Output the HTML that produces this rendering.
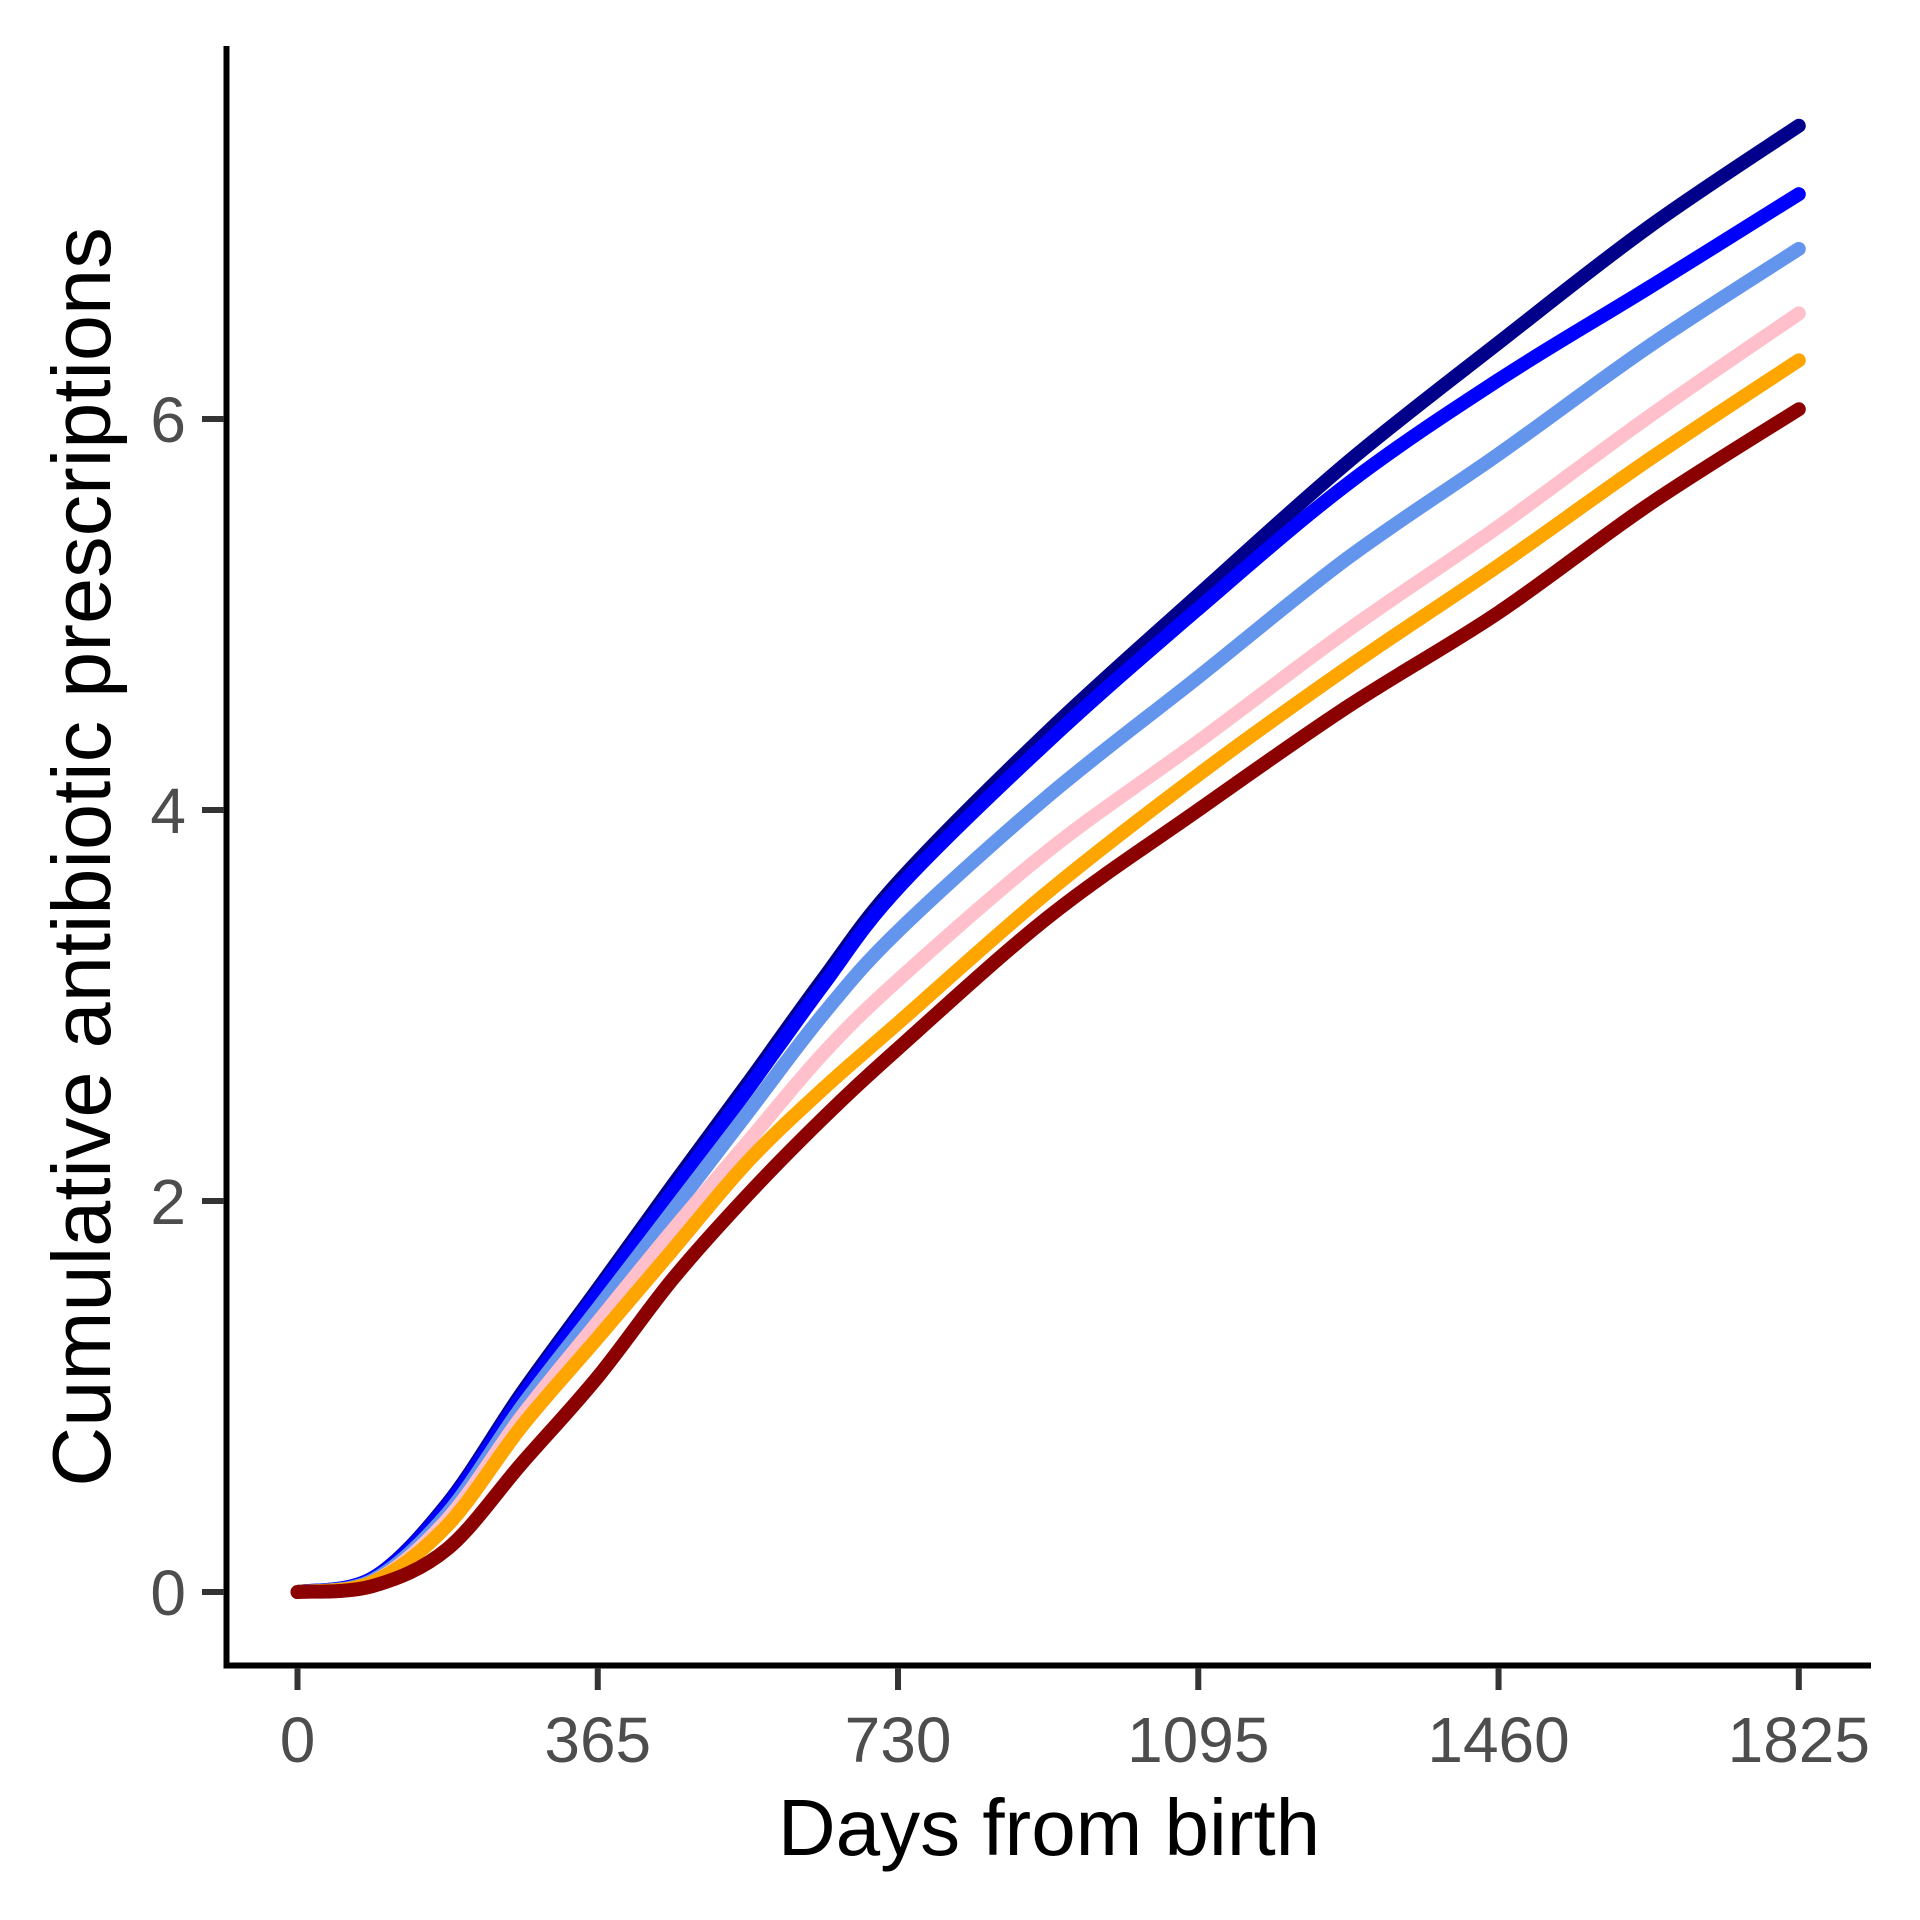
<!DOCTYPE html>
<html><head><meta charset="utf-8"><style>
html,body{margin:0;padding:0;background:#fff;}
svg{display:block;font-family:"Liberation Sans",sans-serif;}
</style></head><body>
<svg id="chart" width="1920" height="1920" viewBox="0 0 1920 1920">
<g id="plot"></g>
<line x1="226.5" y1="46" x2="226.5" y2="1668" stroke="#000" stroke-width="6"/>
<line x1="223.5" y1="1665.5" x2="1871" y2="1665.5" stroke="#000" stroke-width="6"/>
<g id="xticks"></g>
<g id="yticks"></g>
<text x="1049" y="1855" font-size="80" text-anchor="middle" fill="#000">Days from birth</text>
<text x="0" y="0" font-size="83" text-anchor="middle" fill="#000" transform="translate(110,857) rotate(-90)">Cumulative antibiotic prescriptions</text>
</svg>
<script>
const days = [0,91,182,273,365,456,547,638,730,912,1095,1277,1460,1642,1825];
const seriesNames = ['navy','blue','cornflower','pink','orange','darkred'];
const navyVals = [0,0.07,0.45,1.02,1.55,2.08,2.60,3.13,3.63,4.40,5.10,5.78,6.39,6.98,7.50];
const blueVals = [0,0.07,0.44,1.00,1.53,2.05,2.57,3.10,3.60,4.35,5.03,5.67,6.20,6.67,7.15];
const cornflowerVals = [0,0.06,0.40,0.95,1.45,1.95,2.45,2.95,3.38,4.07,4.68,5.29,5.82,6.37,6.87];
const pinkVals = [0,0.05,0.37,0.90,1.38,1.85,2.30,2.75,3.13,3.79,4.35,4.92,5.45,6.01,6.54];
const orangeVals = [0,0.05,0.34,0.85,1.30,1.75,2.20,2.57,2.91,3.58,4.18,4.73,5.25,5.79,6.30];
const darkredVals = [0,0.03,0.22,0.66,1.10,1.60,2.03,2.42,2.78,3.45,4.00,4.53,5.01,5.56,6.05];
const xTicks = [0,365,730,1095,1460,1825];
const yTicks = [0,2,4,6];

const NS='http://www.w3.org/2000/svg';
function xs(d){return 297.5 + d*(1798.8-297.5)/1825;}
function ys(v){return 1592 - v*195.5;}
const colors={navy:'#00008B',blue:'#0000FF',cornflower:'#6495ED',pink:'#FFC0CB',orange:'#FFA500',darkred:'#8B0000'};
const valsMap={navy:navyVals,blue:blueVals,cornflower:cornflowerVals,pink:pinkVals,orange:orangeVals,darkred:darkredVals};
const plot=document.getElementById('plot');
seriesNames.forEach(function(n){
  const v=valsMap[n];
  const pts=days.map(function(d,i){return [xs(d),ys(v[i])];});
  let dstr='M'+pts[0][0]+','+pts[0][1];
  for(let i=0;i<pts.length-1;i++){
    const p0=pts[Math.max(0,i-1)],p1=pts[i],p2=pts[i+1],p3=pts[Math.min(pts.length-1,i+2)];
    const c1x=p1[0]+(p2[0]-p0[0])/6,c1y=p1[1]+(p2[1]-p0[1])/6;
    const c2x=p2[0]-(p3[0]-p1[0])/6,c2y=p2[1]-(p3[1]-p1[1])/6;
    dstr+=' C'+c1x+','+c1y+' '+c2x+','+c2y+' '+p2[0]+','+p2[1];
  }
  const p=document.createElementNS(NS,'path');
  p.setAttribute('d',dstr);
  p.setAttribute('fill','none');
  p.setAttribute('stroke',colors[n]);
  p.setAttribute('stroke-width','14');
  p.setAttribute('stroke-linecap','round');
  p.setAttribute('stroke-linejoin','round');
  
  
  plot.appendChild(p);
});
const xt=document.getElementById('xticks');
xTicks.forEach(function(t){
  const l=document.createElementNS(NS,'line');
  l.setAttribute('x1',xs(t));l.setAttribute('x2',xs(t));
  l.setAttribute('y1',1668);l.setAttribute('y2',1690);
  l.setAttribute('stroke','#333');l.setAttribute('stroke-width','6');
  
  
  xt.appendChild(l);
  const tx=document.createElementNS(NS,'text');
  tx.setAttribute('x',xs(t));tx.setAttribute('y',1762);
  tx.setAttribute('font-size','64');tx.setAttribute('fill','#4d4d4d');
  tx.setAttribute('text-anchor','middle');
  tx.textContent=t;
  
  
  xt.appendChild(tx);
});
const yt=document.getElementById('yticks');
yTicks.forEach(function(t){
  const l=document.createElementNS(NS,'line');
  l.setAttribute('x1',202);l.setAttribute('x2',224);
  l.setAttribute('y1',ys(t));l.setAttribute('y2',ys(t));
  l.setAttribute('stroke','#333');l.setAttribute('stroke-width','6');
  
  
  yt.appendChild(l);
  const tx=document.createElementNS(NS,'text');
  tx.setAttribute('x',186);tx.setAttribute('y',ys(t)+23);
  tx.setAttribute('font-size','64');tx.setAttribute('fill','#4d4d4d');
  tx.setAttribute('text-anchor','end');
  tx.textContent=t;
  
  
  yt.appendChild(tx);
});
</script>
</body></html>
